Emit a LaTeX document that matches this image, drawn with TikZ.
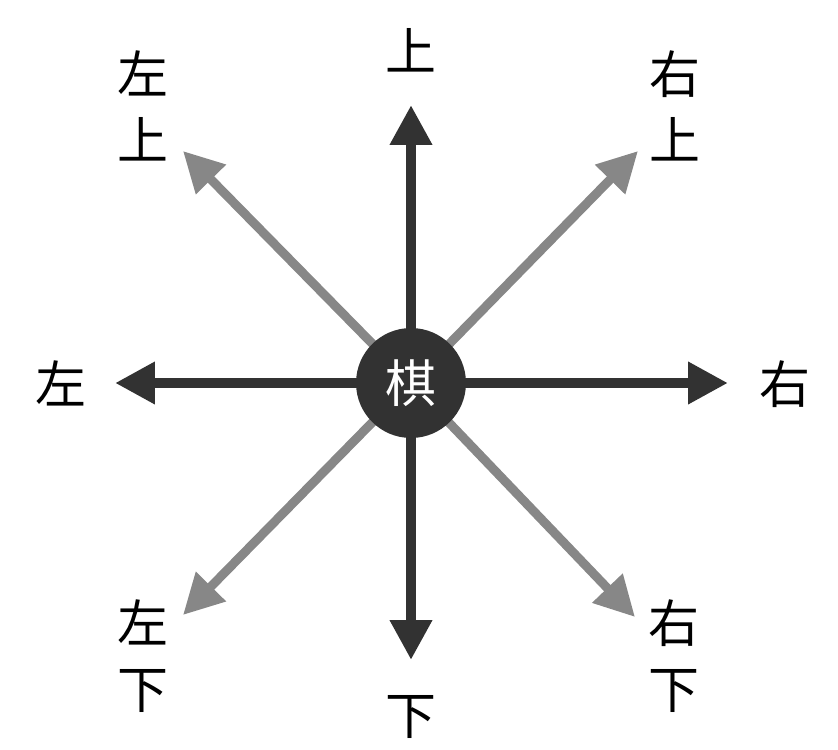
\documentclass[tikz,border=0pt]{standalone}
\usepackage{fontspec}
\newfontfamily\cjk{Noto Sans CJK SC}
\usetikzlibrary{arrows.meta}
\definecolor{dir_dark}{RGB}{50, 50, 50}
\definecolor{dir_gray}{RGB}{135, 135, 135}
\tikzstyle{qi}=[circle,fill=dir_dark,text=white,inner sep=0pt,
  minimum size=2.2cm,font=\cjk\fontsize{29}{36}\selectfont]
\tikzstyle{lb}=[align=center,inner sep=0pt,font=\cjk\fontsize{29}{37.6}\selectfont]
\tikzstyle{da}=[color=dir_dark,line width=0.2cm,
  -{Triangle[length=0.8cm,width=0.8cm]}]
\tikzstyle{ga}=[color=dir_gray,line width=0.18cm,
  -{Triangle[length=0.8cm,width=0.8cm]}]
\begin{document}
\begin{tikzpicture}[x=0.02cm,y=-0.02cm]
        \useasboundingbox (0,0) rectangle (838,750);
        \coordinate (c) at (411,383);
        \coordinate (u) at (411,105);
        \coordinate (d) at (411,660);
        \coordinate (l) at (115,383);
        \coordinate (r) at (728,383);
        \coordinate (ul) at (183,151);
        \coordinate (ur) at (638,151);
        \coordinate (dl) at (183,615);
        \coordinate (dr) at (635,617);
        \node (0) at (411,50) [style=lb] {上};
        \node (1) at (411,717) [style=lb] {下};
        \node (2) at (61,383) [style=lb] {左};
        \node (3) at (785,384) [style=lb] {右};
        \node (4) at (143,106) [style=lb] {左\\上};
        \node (5) at (675,106) [style=lb] {右\\上};
        \node (6) at (143,656) [style=lb] {左\\下};
        \node (7) at (674,656) [style=lb] {右\\下};
        \draw[style=ga] (c) to (ul);
        \draw[style=ga] (c) to (ur);
        \draw[style=ga] (c) to (dl);
        \draw[style=ga] (c) to (dr);
        \draw[style=da] (c) to (u);
        \draw[style=da] (c) to (d);
        \draw[style=da] (c) to (l);
        \draw[style=da] (c) to (r);
        \node[style=qi] (8) at (c) {棋};
    \end{tikzpicture}
\end{document}
